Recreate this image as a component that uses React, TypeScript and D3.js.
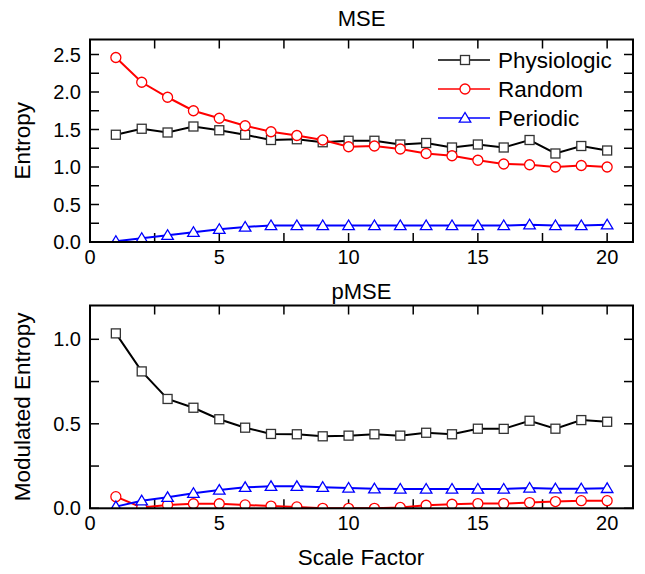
import React from "react";
import * as d3 from "d3";

const scaleFactors = [1, 2, 3, 4, 5, 6, 7, 8, 9, 10, 11, 12, 13, 14, 15, 16, 17, 18, 19, 20];

const msePhysiologic = [1.43, 1.51, 1.46, 1.54, 1.49, 1.43, 1.36, 1.37, 1.33, 1.35, 1.35, 1.30, 1.32, 1.26, 1.30, 1.26, 1.36, 1.18, 1.28, 1.22];
const mseRandom = [2.46, 2.13, 1.93, 1.75, 1.65, 1.55, 1.47, 1.42, 1.36, 1.27, 1.28, 1.24, 1.18, 1.15, 1.09, 1.04, 1.03, 1.00, 1.02, 1.00];
const msePeriodic = [0.01, 0.05, 0.09, 0.13, 0.17, 0.20, 0.22, 0.22, 0.22, 0.22, 0.22, 0.22, 0.22, 0.22, 0.22, 0.22, 0.23, 0.22, 0.22, 0.23];

const pmsePhysiologic = [1.035, 0.81, 0.647, 0.595, 0.527, 0.477, 0.44, 0.438, 0.426, 0.43, 0.438, 0.43, 0.447, 0.438, 0.471, 0.47, 0.518, 0.471, 0.522, 0.512];
const pmseRandom = [0.069, 0.005, 0.02, 0.027, 0.027, 0.02, 0.013, 0.008, 0.0, 0.0, 0.0, 0.005, 0.018, 0.024, 0.028, 0.028, 0.034, 0.04, 0.045, 0.045];
const pmsePeriodic = [0.01, 0.045, 0.065, 0.089, 0.108, 0.124, 0.13, 0.13, 0.125, 0.12, 0.116, 0.114, 0.114, 0.114, 0.114, 0.114, 0.12, 0.116, 0.116, 0.118];

const seriesNames = ["Physiologic", "Random", "Periodic"];
const seriesColors = ["#000000", "#ff0000", "#0000ff"];
const markerStroke = ["#333333", "#ff0000", "#0000ff"];
const markerTypes = ["square", "circle", "triangle"];

const xTicks = [0, 5, 10, 15, 20];
const xMinorTicks = [2.5, 7.5, 12.5, 17.5];
const topYTicks = [0, 0.5, 1.0, 1.5, 2.0, 2.5];
const bottomYTicks = [0, 0.5, 1.0];

const W = 645;
const H = 574;
const FONT = "'Liberation Sans', Arial, sans-serif";

function Marker({ type, x, y, color }: { type: string; x: number; y: number; color: string }) {
  if (type === "square") {
    return <rect x={x - 4.5} y={y - 4.5} width={9} height={9} fill="#fff" stroke={color} strokeWidth={1.3} />;
  }
  if (type === "circle") {
    return <circle cx={x} cy={y} r={5} fill="#fff" stroke={color} strokeWidth={1.3} />;
  }
  const s = 5.5;
  const pts = [
    [x, y - s],
    [x - s * 1.05, y + s * 0.75],
    [x + s * 1.05, y + s * 0.75],
  ];
  return <polygon points={pts.map((p) => p.join(",")).join(" ")} fill="#fff" stroke={color} strokeWidth={1.3} />;
}

function Panel({
  id,
  top,
  bottom,
  yMax,
  yTicks,
  series,
  title,
  yLabel,
  titleY,
  legend,
}: {
  id: string;
  top: number;
  bottom: number;
  yMax: number;
  yTicks: number[];
  series: number[][];
  title: string;
  yLabel: string;
  titleY: number;
  legend: boolean;
}) {
  const left = 90;
  const right = 633;
  const x = d3.scaleLinear().domain([0, 21]).range([left, right]);
  const y = d3.scaleLinear().domain([0, yMax]).range([bottom, top]);
  const line = d3
    .line<[number, number]>()
    .x((d) => x(d[0]))
    .y((d) => y(d[1]));
  const yMinor: number[] = [];
  for (let i = 0; i < yTicks.length; i++) {
    yMinor.push(yTicks[i]);
    const next = yTicks[i] + 0.25;
    if (next <= yMax) yMinor.push(next);
  }
  const tickLen = 9;
  const allX = [...xTicks, ...xMinorTicks];
  return (
    <g>
      <defs>
        <clipPath id={id}>
          <rect x={left} y={top} width={right - left} height={bottom - top} />
        </clipPath>
      </defs>
      <text x={(left + right) / 2} y={titleY} textAnchor="middle" fontSize={22} fontFamily={FONT}>
        {title}
      </text>
      <text
        transform={`translate(30, ${(top + bottom) / 2}) rotate(-90)`}
        textAnchor="middle"
        fontSize={22.5}
        fontFamily={FONT}
      >
        {yLabel}
      </text>
      {allX.map((t) => (
        <g key={"xt" + t}>
          <line x1={x(t)} x2={x(t)} y1={bottom} y2={bottom - tickLen} stroke="#000" strokeWidth={1.5} />
          <line x1={x(t)} x2={x(t)} y1={top} y2={top + tickLen} stroke="#000" strokeWidth={1.5} />
        </g>
      ))}
      {yMinor.map((t) => (
        <g key={"yt" + t}>
          <line x1={left} x2={left + tickLen} y1={y(t)} y2={y(t)} stroke="#000" strokeWidth={1.5} />
          <line x1={right} x2={right - tickLen} y1={y(t)} y2={y(t)} stroke="#000" strokeWidth={1.5} />
        </g>
      ))}
      {xTicks.map((t) => (
        <text key={"xl" + t} x={x(t)} y={bottom + 22} textAnchor="middle" fontSize={20} fontFamily={FONT}>
          {t}
        </text>
      ))}
      {yTicks.map((t) => (
        <text key={"yl" + t} x={left - 9} y={y(t) + 7} textAnchor="end" fontSize={20} fontFamily={FONT}>
          {d3.format(".1f")(t)}
        </text>
      ))}
      <g clipPath={`url(#${id})`}>
        {series.map((vals, si) => {
          const pts = scaleFactors.map((s, i) => [s, vals[i]] as [number, number]);
          return (
            <g key={"s" + si}>
              <path d={line(pts) || ""} fill="none" stroke={seriesColors[si]} strokeWidth={2} />
              {pts.map((p, i) => (
                <Marker key={i} type={markerTypes[si]} x={x(p[0])} y={y(p[1])} color={markerStroke[si]} />
              ))}
            </g>
          );
        })}
      </g>
      <rect x={left} y={top} width={right - left} height={bottom - top} fill="none" stroke="#000" strokeWidth={2} />
      {legend &&
        seriesNames.map((n, i) => {
          const ly = 60 + i * 29;
          return (
            <g key={n}>
              <line x1={438} x2={490} y1={ly} y2={ly} stroke={seriesColors[i]} strokeWidth={1.5} />
              <Marker type={markerTypes[i]} x={465} y={ly} color={markerStroke[i]} />
              <text x={498} y={ly + 8} fontSize={22.5} fontFamily={FONT}>
                {n}
              </text>
            </g>
          );
        })}
    </g>
  );
}

export default function App() {
  return (
    <svg width={W} height={H} style={{ position: "absolute", left: 0, top: 0, background: "#fff" }}>
      <rect width={W} height={H} fill="#fff" />
      <Panel
        id="clipTop"
        top={39.5}
        bottom={242}
        yMax={2.7}
        yTicks={topYTicks}
        series={[msePhysiologic, mseRandom, msePeriodic]}
        title="MSE"
        yLabel="Entropy"
        titleY={26}
        legend={true}
      />
      <Panel
        id="clipBottom"
        top={305.5}
        bottom={508.3}
        yMax={1.2}
        yTicks={bottomYTicks}
        series={[pmsePhysiologic, pmseRandom, pmsePeriodic]}
        title="pMSE"
        yLabel="Modulated Entropy"
        titleY={299}
        legend={false}
      />
      <text x={361} y={565} textAnchor="middle" fontSize={22.5} fontFamily={FONT}>
        Scale Factor
      </text>
    </svg>
  );
}
